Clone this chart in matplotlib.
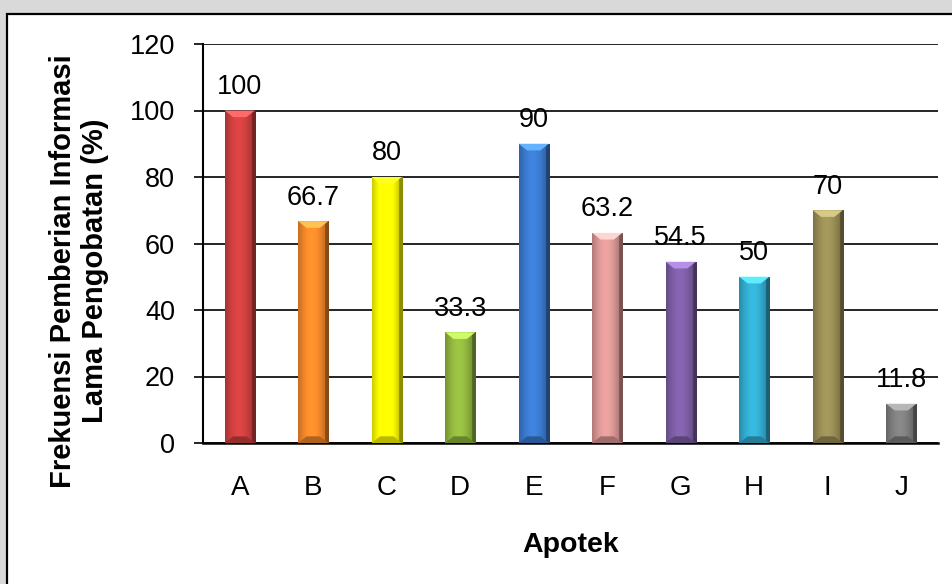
import numpy as np
import matplotlib.pyplot as plt
from matplotlib.patches import Rectangle, Polygon
from matplotlib.colors import to_rgb

plt.rcParams['font.family'] = ['Liberation Sans', 'DejaVu Sans']

apotek = ['A', 'B', 'C', 'D', 'E', 'F', 'G', 'H', 'I', 'J']
persen = [100, 66.7, 80, 33.3, 90, 63.2, 54.5, 50, 70, 11.8]
label_nilai = ['100', '66.7', '80', '33.3', '90', '63.2', '54.5', '50', '70', '11.8']
warna = ['#d04040', '#f5892a', '#ffff00', '#93b840', '#3b7bd0',
         '#dc9896', '#7e5ea6', '#33add2', '#9a8e56', '#7f7f7f']

fig = plt.figure(figsize=(9.53, 5.84), dpi=100)
fig.patch.set_facecolor('#d9d9d9')

# white chart area with black frame
frame = Rectangle((7.5 / 953, -0.05), 1.0, 1 - 14 / 584 + 0.05, transform=fig.transFigure,
                  facecolor='white', edgecolor='black', linewidth=1.6, zorder=-5)
fig.patches.append(frame)

ax = fig.add_axes([203 / 953, 141 / 584, 735 / 953, 399 / 584])
ax.set_facecolor('none')

x = np.arange(len(apotek))
width = 0.41
bars = ax.bar(x, persen, width=width, color=warna, zorder=3)

# shaded bevel look on each bar
for b, c in zip(bars, warna):
    x0, w, h = b.get_x(), b.get_width(), b.get_height()
    rgb = np.array(to_rgb(c))
    t = np.linspace(0, 1, 64)
    shade = 0.8 + 0.28 * np.sin(np.pi * np.clip(t * 1.12, 0, 1)) - 0.25 * (t > 0.88)
    img = np.clip(rgb[None, :] * shade[:, None], 0, 1)[None, :, :]
    im = ax.imshow(img, extent=(x0, x0 + w, 0, h), aspect='auto', zorder=3.5)
    im.set_clip_path(b)
    b.set_facecolor('none')
    bev = min(2.0, h * 0.2)
    top = np.clip(rgb * 1.2 + 0.12, 0, 1)
    ax.add_patch(Polygon([(x0, h), (x0 + w, h), (x0 + w * 0.72, h - bev), (x0 + w * 0.28, h - bev)],
                         closed=True, facecolor=top, edgecolor='none', zorder=4))
    ax.add_patch(Polygon([(x0, 0), (x0 + w, 0), (x0 + w * 0.72, bev), (x0 + w * 0.28, bev)],
                         closed=True, facecolor=rgb * 0.72, edgecolor='none', zorder=4))

for xi, v, s in zip(x, persen, label_nilai):
    ax.annotate(s, (xi, v), xytext=(0, 12), textcoords='offset points',
                ha='center', va='baseline', fontsize=19.5, zorder=5)

ax.set_xlim(-0.5, len(apotek) - 0.5)
ax.set_ylim(0, 120)
ax.set_yticks(range(0, 121, 20))
ax.yaxis.grid(True, color='black', linewidth=1.2, zorder=1)
ax.set_axisbelow(True)
ax.set_xticks(x)
ax.set_xticklabels(apotek)
ax.tick_params(axis='x', length=0, labelsize=20, pad=23)
ax.tick_params(axis='y', length=6.5, width=1.2, labelsize=19.5, pad=13.5, direction='out')
for side in ['top', 'right']:
    ax.spines[side].set_visible(False)
ax.spines['left'].set_linewidth(1.5)
ax.spines['bottom'].set_linewidth(1.8)

# axis titles
fig.text(570.5 / 953, 1 - 552 / 584, 'Apotek', ha='center', va='baseline',
         fontsize=20.5, fontweight='bold')
fig.text(79 / 953, 1 - 271 / 584, 'Frekuensi Pemberian Informasi\nLama Pengobatan (%)',
         ha='center', va='center', rotation=90, fontsize=21, fontweight='bold',
         linespacing=1.15)

fig.savefig('out.png', dpi=100, facecolor=fig.get_facecolor())
